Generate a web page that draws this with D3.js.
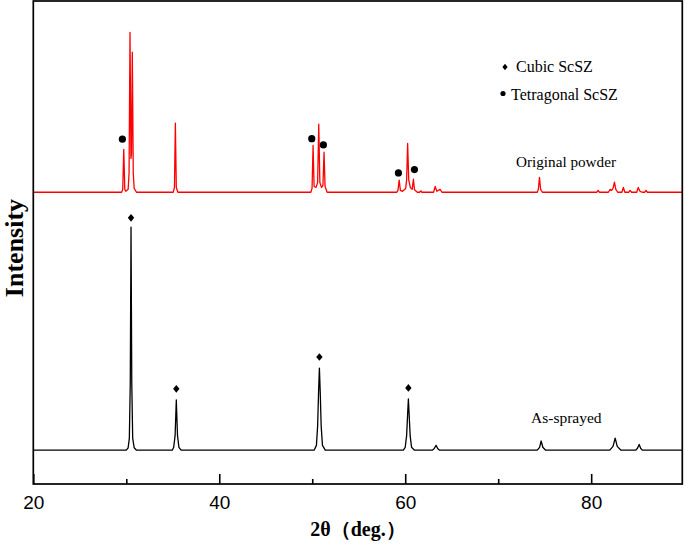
<!DOCTYPE html>
<html>
<head>
<meta charset="utf-8">
<script src="https://cdn.jsdelivr.net/npm/d3@7"></script>
<style>
  html, body { margin: 0; padding: 0; background: #fff; }
  svg { display: block; }
</style>
</head>
<body>
<div id="chart"></div>
<script>
// ---------- DATA (2θ in degrees, intensity in arbitrary units relative to each pattern's baseline) ----------
const xTicksMajor = [20, 40, 60, 80];
const xTicksMinor = [30, 50, 70];

// Original powder (red) pattern
const originalPowder = [
  [20, 0],
  [29.5, 0], [29.62, 6], [29.73, 89], [29.84, 6], [29.95, 2], [30.2, 6], [30.3, 40], [30.4, 331],
  [30.5, 70], [30.56, 80], [30.65, 290], [30.75, 40], [30.85, 8], [31.1, 0],
  [35.05, 0], [35.18, 10], [35.28, 143], [35.38, 10], [35.55, 0],
  [49.85, 0], [49.98, 8], [50.09, 97], [50.2, 12], [50.4, 10], [50.58, 20], [50.7, 141], [50.82, 20],
  [51.0, 10], [51.15, 14], [51.27, 83], [51.38, 12], [51.6, 0],
  [59.1, 0], [59.22, 4], [59.35, 25], [59.48, 4], [59.7, 2], [60.05, 8], [60.15, 25], [60.26, 101],
  [60.38, 25], [60.55, 10], [60.75, 6], [60.88, 27], [61.0, 5], [61.3, 0],
  [61.55, 0], [61.68, 3], [61.8, 0],
  [63.05, 0], [63.22, 12], [63.4, 2], [63.75, 6], [63.95, 0],
  [74.2, 0], [74.32, 6], [74.44, 31], [74.56, 6], [74.75, 0],
  [80.6, 0], [80.75, 4], [80.9, 0],
  [81.85, 0], [82.04, 6], [82.2, 4], [82.35, 8], [82.5, 21], [82.65, 6], [82.85, 0],
  [83.3, 0], [83.46, 10], [83.62, 0],
  [84.05, 0], [84.18, 4], [84.35, 0],
  [84.9, 0], [85.06, 10], [85.25, 2], [85.5, 0], [85.75, 0], [85.89, 4], [86.05, 0],
  [90, 0]
];

// As-sprayed (black) pattern
const asSprayed = [
  [20, 0],
  [30.0, 0], [30.2, 5], [30.33, 25], [30.43, 140], [30.51, 462], [30.59, 140], [30.69, 25], [30.85, 5], [31.1, 0],
  [34.95, 0], [35.1, 6], [35.25, 30], [35.33, 75], [35.38, 104], [35.43, 75], [35.51, 30], [35.66, 6], [35.9, 0],
  [50.2, 0], [50.45, 10], [50.58, 50], [50.68, 120], [50.77, 170], [50.86, 120], [50.96, 50], [51.1, 10], [51.4, 0],
  [59.8, 0], [60.0, 6], [60.15, 30], [60.26, 75], [60.34, 106], [60.42, 75], [60.53, 30], [60.68, 6], [61.0, 0],
  [62.9, 0], [63.1, 3], [63.32, 10], [63.5, 3], [63.7, 0],
  [74.2, 0], [74.45, 6], [74.62, 19], [74.8, 6], [75.1, 0],
  [82.0, 0], [82.35, 8], [82.58, 25], [82.8, 8], [83.2, 0],
  [84.8, 0], [84.98, 4], [85.16, 12], [85.32, 4], [85.5, 0],
  [90, 0]
];

// vertical stacking offsets of the two patterns
const patternOffsets = { original: 604, sprayed: 70 };

// Phase markers [2θ, height above baseline]
const tetragonalMarks = [[29.58, 110], [49.95, 111], [51.2, 98], [59.27, 40], [60.99, 47]];
const cubicMarks = [[30.51, 481], [35.38, 127], [50.77, 193], [60.34, 129]];

const legendItems = ["Cubic ScSZ", "Tetragonal ScSZ"];
const patternLabels = ["Original powder", "As-sprayed"];

// ---------- LAYOUT ----------
const W = 685, H = 545;
const plot = { left: 33.3, right: 682.3, top: 1, bottom: 484 };
const serif = "'Times New Roman', 'Liberation Serif', 'Noto Serif', serif";
const sans = "Arial, 'Liberation Sans', sans-serif";

const svg = d3.select("#chart").append("svg").attr("width", W).attr("height", H);

const x = d3.scaleLinear().domain([20, 89.8]).range([plot.left, plot.right]);
const y = d3.scaleLinear().domain([0, 1000]).range([plot.bottom, plot.top]);

svg.append("defs").append("clipPath").attr("id", "clip")
  .append("rect")
  .attr("x", plot.left).attr("y", plot.top)
  .attr("width", plot.right - plot.left).attr("height", plot.bottom - plot.top);

const lineFor = off => d3.line().x(d => x(d[0])).y(d => y(d[1] + off)).curve(d3.curveLinear);

const g = svg.append("g").attr("clip-path", "url(#clip)");

g.append("path").datum(originalPowder)
  .attr("d", lineFor(patternOffsets.original))
  .attr("fill", "none").attr("stroke", "#ff0000").attr("stroke-width", 1.3)
  .attr("stroke-linejoin", "round");

g.append("path").datum(asSprayed)
  .attr("d", lineFor(patternOffsets.sprayed))
  .attr("fill", "none").attr("stroke", "#000").attr("stroke-width", 1.3)
  .attr("stroke-linejoin", "round");

// markers
const diamondPath = (w, h) => `M0,${-h}L${w},0L0,${h}L${-w},0Z`;

svg.append("g").selectAll("circle").data(tetragonalMarks).join("circle")
  .attr("cx", d => x(d[0])).attr("cy", d => y(d[1] + patternOffsets.original))
  .attr("r", 3.6).attr("fill", "#000");

svg.append("g").selectAll("path").data(cubicMarks).join("path")
  .attr("transform", d => `translate(${x(d[0])},${y(d[1] + patternOffsets.sprayed)})`)
  .attr("d", diamondPath(3.2, 3.8)).attr("fill", "#000");

// axes (inward ticks, bottom only)
const axisMajor = d3.axisBottom(x).tickValues(xTicksMajor).tickSize(-10).tickSizeOuter(0).tickPadding(11.5)
  .tickFormat(d3.format("d"));
const axisMinor = d3.axisBottom(x).tickValues(xTicksMinor).tickSize(-5).tickSizeOuter(0).tickFormat("");

const gMaj = svg.append("g").attr("transform", `translate(0,${plot.bottom})`).call(axisMajor);
const gMin = svg.append("g").attr("transform", `translate(0,${plot.bottom})`).call(axisMinor);
[gMaj, gMin].forEach(a => {
  a.select(".domain").remove();
  a.selectAll(".tick line").attr("stroke", "#000").attr("stroke-width", 1.6);
});
gMaj.selectAll(".tick text").attr("font-family", sans).attr("font-size", 19).attr("fill", "#000");

// frame
svg.append("rect")
  .attr("x", plot.left).attr("y", plot.top)
  .attr("width", plot.right - plot.left).attr("height", plot.bottom - plot.top)
  .attr("fill", "none").attr("stroke", "#000").attr("stroke-width", 1.7);

// axis titles
svg.append("text")
  .attr("x", 358).attr("y", 536)
  .attr("text-anchor", "middle")
  .attr("font-family", serif).attr("font-weight", "bold").attr("font-size", 20)
  .text("2θ（deg.）");

svg.append("text")
  .attr("transform", "translate(23,248) rotate(-90)")
  .attr("text-anchor", "middle")
  .attr("font-family", serif).attr("font-weight", "bold").attr("font-size", 26)
  .text("Intensity");

// pattern labels
svg.append("text").attr("x", 516).attr("y", 166.5)
  .attr("font-family", serif).attr("font-size", 15.2).text(patternLabels[0]);
svg.append("text").attr("x", 531).attr("y", 423)
  .attr("font-family", serif).attr("font-size", 15.5).text(patternLabels[1]);

// legend
const leg = svg.append("g");
leg.append("path").attr("transform", "translate(505,67)").attr("d", diamondPath(2.6, 3.2)).attr("fill", "#000");
leg.append("text").attr("x", 516).attr("y", 72).attr("font-family", serif).attr("font-size", 16).text(legendItems[0]);
leg.append("circle").attr("cx", 503).attr("cy", 93.5).attr("r", 2.6).attr("fill", "#000");
leg.append("text").attr("x", 511).attr("y", 99.5).attr("font-family", serif).attr("font-size", 16).text(legendItems[1]);
</script>
</body>
</html>
